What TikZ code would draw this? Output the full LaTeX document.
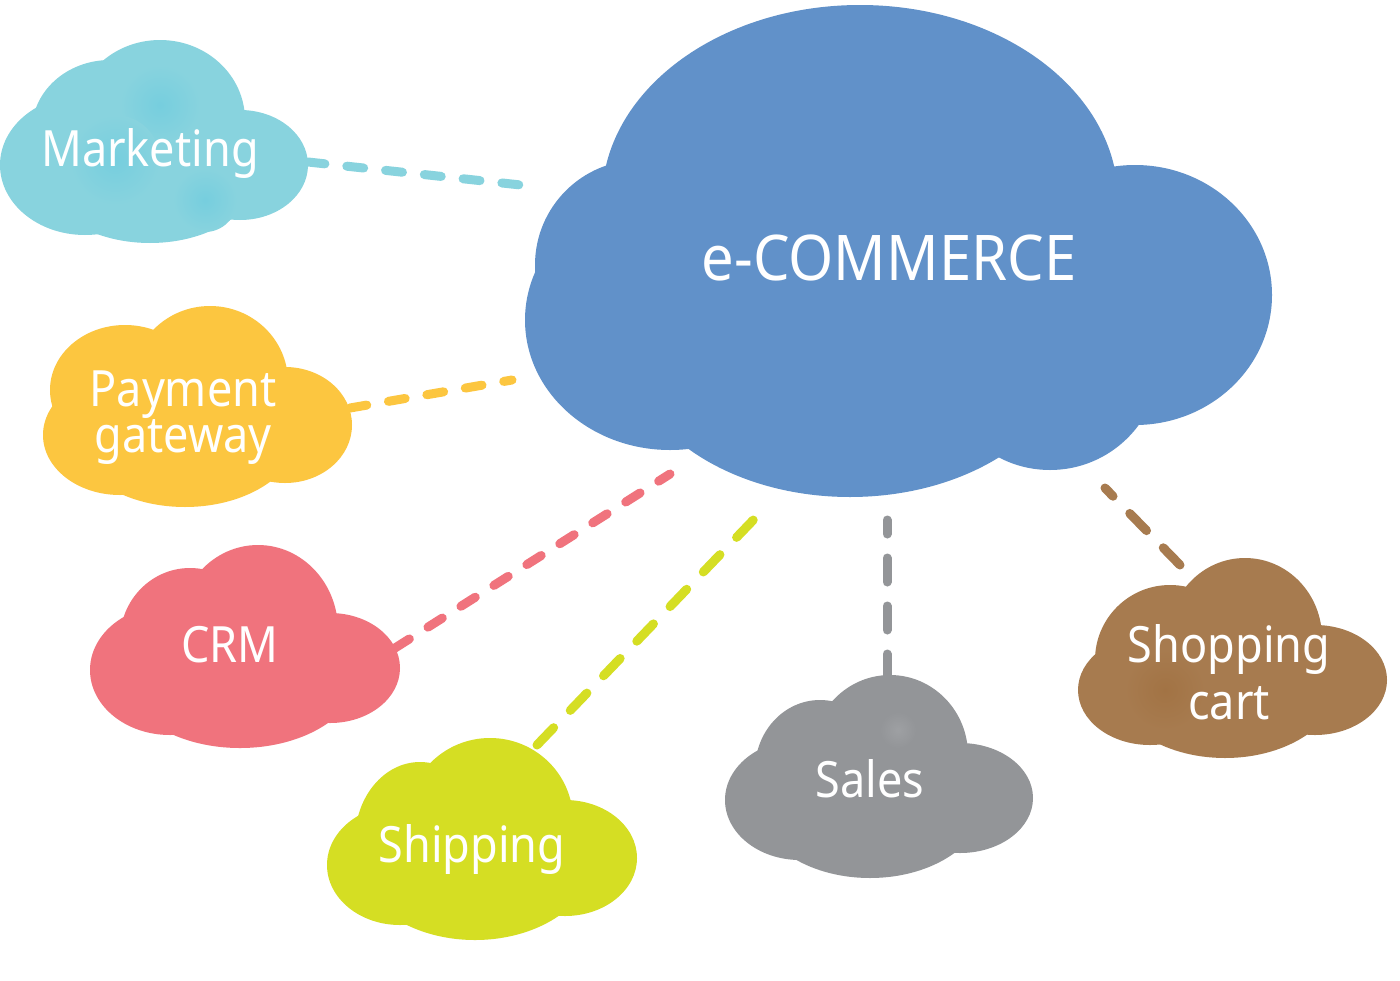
\documentclass[tikz,border=0pt]{standalone}
\usepackage{fontspec}
\setmainfont{Noto Sans}
\newfontfamily\lblfont[FakeStretch=0.9]{Noto Sans}
\newfontfamily\mainfont[FakeStretch=0.92]{Noto Sans}
\definecolor{cblue}{RGB}{97,145,201}
\definecolor{ccyan}{RGB}{136,211,222}
\definecolor{ccyandark}{RGB}{118,206,222}
\definecolor{cyellow}{RGB}{252,198,64}
\definecolor{cpink}{RGB}{240,115,125}
\definecolor{clime}{RGB}{213,222,35}
\definecolor{cgray}{RGB}{147,149,152}
\definecolor{cgraylight}{RGB}{158,160,163}
\definecolor{cbrown}{RGB}{167,123,79}
\definecolor{cbrowndark}{RGB}{162,115,68}
\tikzset{
  lbl/.style={text=white, inner sep=0pt, font=\lblfont\fontsize{50}{46}\selectfont, align=center},
  link/.style={line width=9pt, line cap=round, dash pattern=on 17pt off 22pt},
  linklong/.style={line width=9pt, line cap=round, dash pattern=on 24pt off 24pt}
}
\newcommand\blob[5]{\fill[#1] (#2,#3) ellipse [x radius=#4pt, y radius=#5pt];}
\newcommand\spot[5]{\shade[inner color=#1, outer color=#2] (#3,#4) circle [radius=#5pt];}
\begin{document}
\begin{tikzpicture}[x=1pt,y=-1pt]
\useasboundingbox[fill=white] (0,0) rectangle (1400,980);

% connector end points
\coordinate (mk-a) at (308,162);  \coordinate (mk-b) at (530,186);
\coordinate (pg-a) at (350,408);  \coordinate (pg-b) at (512,380);
\coordinate (crm-a) at (395,648); \coordinate (crm-b) at (670,474);
\coordinate (sh-a) at (537,745);  \coordinate (sh-b) at (760,513);
\coordinate (sl-a) at (887,678);  \coordinate (sl-b) at (887,520);
\coordinate (sc-a) at (1180,565); \coordinate (sc-b) at (1105,488);

% connectors
\draw[link, ccyan]   (mk-a) -- (mk-b);
\draw[link, cyellow] (pg-a) -- (pg-b);
\draw[link, cpink]   (crm-a) -- (crm-b);
\draw[linklong, clime]  (sh-a) -- (sh-b);
\draw[linklong, cgray]  (sl-a) -- (sl-b);
\draw[linklong, cbrown] (sc-a) -- (sc-b);

% main cloud
\blob{cblue}{860}{200}{258}{195}
\blob{cblue}{640}{265}{105}{105}
\blob{cblue}{670}{320}{145}{130}
\blob{cblue}{850}{337}{226}{160}
\blob{cblue}{1050}{360}{110}{110}
\blob{cblue}{1135}{295}{137}{130}

% Marketing cloud
\blob{ccyan}{160}{120}{85}{80}
\blob{ccyan}{110}{130}{78}{70}
\blob{ccyan}{85}{165}{85}{70}
\blob{ccyan}{240}{165}{68}{55}
\blob{ccyan}{150}{170}{110}{73}
\spot{ccyandark}{ccyan}{160}{105}{40}
\spot{ccyandark}{ccyan}{115}{160}{45}
\spot{ccyandark}{ccyan}{205}{200}{32}

% Payment cloud
\blob{cyellow}{210}{382}{78}{76}
\blob{cyellow}{125}{390}{75}{65}
\blob{cyellow}{120}{435}{77}{60}
\blob{cyellow}{285}{425}{67}{58}
\blob{cyellow}{185}{430}{115}{77}

% CRM cloud
\blob{cpink}{258}{630}{80}{85}
\blob{cpink}{190}{640}{70}{72}
\blob{cpink}{170}{670}{80}{65}
\blob{cpink}{330}{668}{70}{55}
\blob{cpink}{240}{670}{120}{78}

% Shipping cloud
\blob{clime}{490}{820}{83}{82}
\blob{clime}{420}{840}{65}{78}
\blob{clime}{400}{865}{73}{60}
\blob{clime}{565}{858}{72}{58}
\blob{clime}{475}{855}{120}{85}

% Sales cloud
\blob{cgray}{890}{755}{78}{80}
\blob{cgray}{820}{770}{65}{70}
\blob{cgray}{800}{800}{75}{60}
\blob{cgray}{960}{798}{73}{55}
\blob{cgray}{870}{800}{115}{78}
\spot{cgraylight}{cgray}{898}{730}{18}

% Shopping cart cloud
\blob{cbrown}{1245}{638}{77}{80}
\blob{cbrown}{1170}{660}{75}{75}
\blob{cbrown}{1150}{690}{72}{55}
\blob{cbrown}{1315}{680}{72}{55}
\blob{cbrown}{1225}{680}{115}{78}
\spot{cbrowndark}{cbrown}{1165}{690}{40}

% labels
\node[lbl, anchor=base, font=\mainfont\fontsize{63}{63}\selectfont] (ecom) at (889,280) {e-COMMERCE};
\node[lbl, anchor=base] (mkt) at (150,166) {Marketing};
\node[lbl] (pay) at (183,418) {Payment\\gateway};
\node[lbl, anchor=base] (crm) at (230,662) {CRM};
\node[lbl, anchor=base] (ship) at (472,862) {Shipping};
\node[lbl, anchor=base] (sales) at (870,797) {Sales};
\node[lbl, font=\lblfont\fontsize{50}{57}\selectfont] (cart) at (1229,672) {Shopping\\cart};
\end{tikzpicture}
\end{document}
